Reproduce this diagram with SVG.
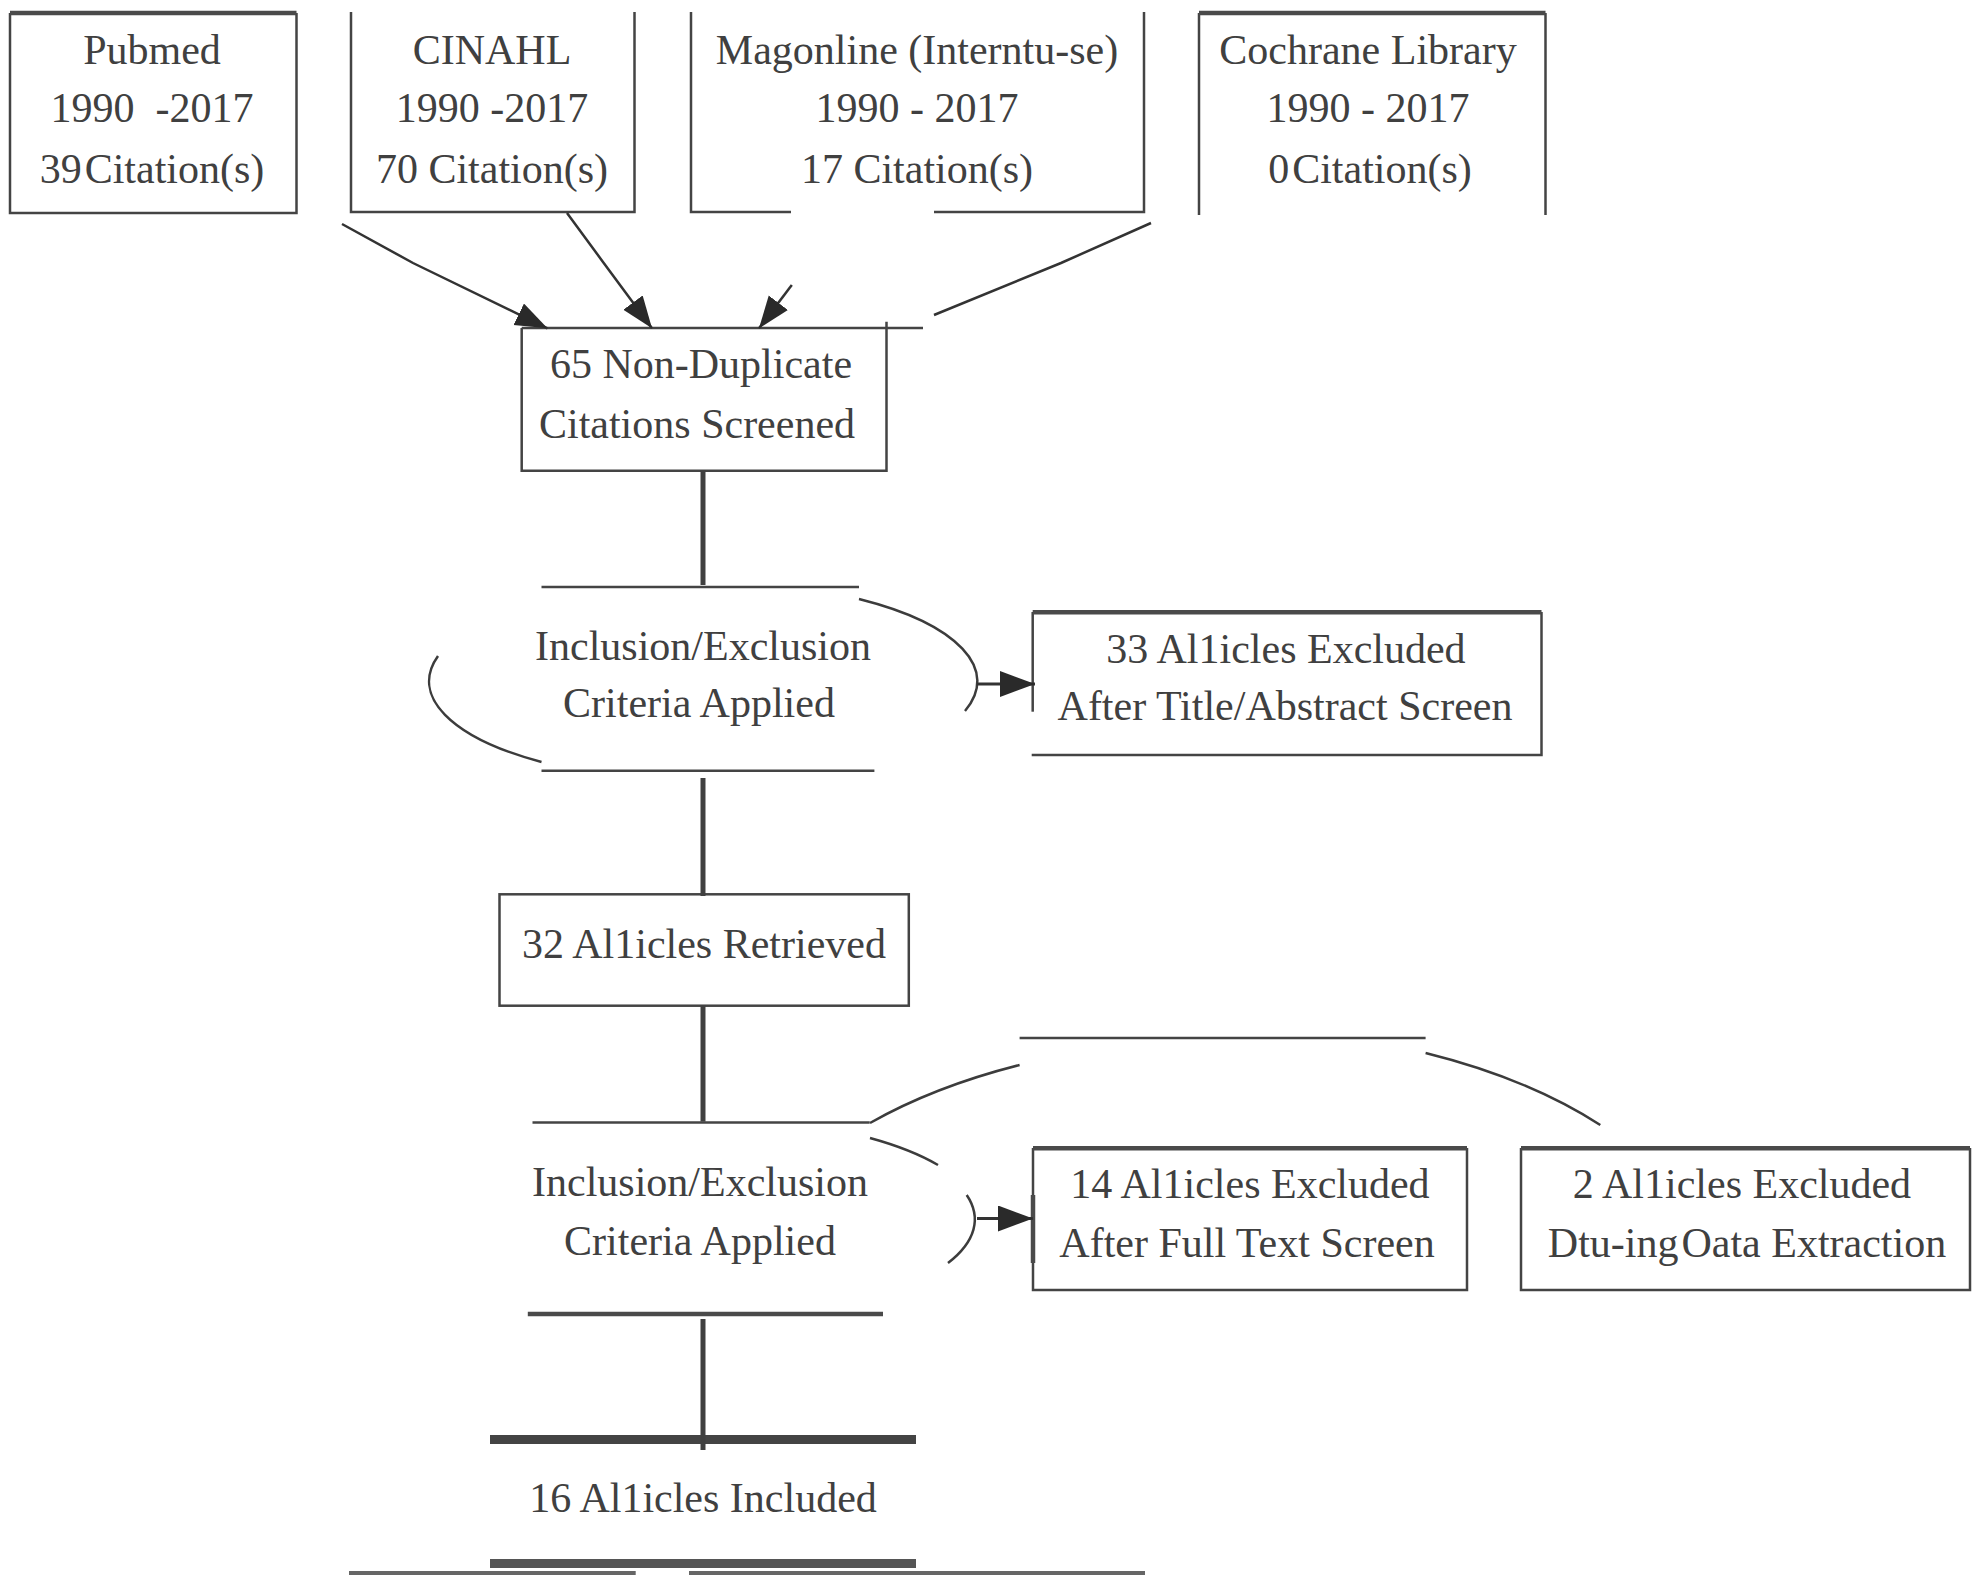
<svg xmlns="http://www.w3.org/2000/svg" width="1977" height="1580" viewBox="0 0 1977 1580">
<style>
  .bg{fill:#ffffff}
  .ln{stroke:#444444;stroke-width:2.5;fill:none}
  .tk{stroke:#4a4a4a;stroke-width:4.5;fill:none}
  .vt{stroke:#404040;stroke-width:5;fill:none}
  .bar{stroke:#444444;stroke-width:9;fill:none}
  .arc{stroke:#3c3c3c;stroke-width:2.5;fill:none}
  .cn{stroke:#333333;stroke-width:2.5;fill:none}
  text{font-family:"Liberation Serif","Times New Roman",serif;font-size:42px;fill:#404040;text-anchor:middle}
  .pre{white-space:pre}
</style>
<defs>
  <marker id="ah" markerUnits="userSpaceOnUse" markerWidth="34" markerHeight="26" refX="32" refY="12" orient="auto">
    <path d="M0,0 L32,12 L0,24 Z" fill="#2a2a2a"/>
  </marker>
  <marker id="ah2" markerUnits="userSpaceOnUse" markerWidth="37" markerHeight="28" refX="35" refY="13" orient="auto">
    <path d="M0,0 L35,13 L0,26 Z" fill="#2a2a2a"/>
  </marker>
</defs>
<rect class="bg" x="0" y="0" width="1977" height="1580"/>

<g id="pubmed">
  <path class="ln" d="M10,13 V213 H296.5 V13"/>
  <path class="tk" d="M10,13 H296.5"/>
  <text x="152" y="64">Pubmed</text>
  <text x="152" y="122" class="pre">1990  -2017</text>
  <text x="152" y="183">39<tspan dx="3">Citation(s)</tspan></text>
</g>

<g id="cinahl">
  <path class="ln" d="M351,12 V212 H634.5 V12"/>
  <text x="492" y="64">CINAHL</text>
  <text x="492" y="122">1990 -2017</text>
  <text x="492" y="183">70 Citation(s)</text>
</g>

<g id="magonline">
  <path class="ln" d="M791,212 H691 V12"/>
  <path class="ln" d="M934,212 H1144 V12"/>
  <text x="917" y="64">Magonline (Interntu-se)</text>
  <text x="917" y="122">1990 - 2017</text>
  <text x="917" y="183">17 Citation(s)</text>
</g>

<g id="cochrane">
  <path class="ln" d="M1199,13 V215 M1545.5,13 V215"/>
  <path class="tk" d="M1199,13 H1545.5"/>
  <text x="1368" y="64">Cochrane Library</text>
  <text x="1368" y="122">1990 - 2017</text>
  <text x="1370" y="183">0<tspan dx="3">Citation(s)</tspan></text>
</g>

<g id="nondup">
  <path class="ln" d="M521.7,328 V470.7 H886.5 V321.7"/>
  <path class="ln" d="M521.7,328 H923"/>
  <text x="701" y="378">65 Non-Duplicate</text>
  <text x="697" y="438">Citations Screened</text>
</g>

<g id="incl1">
  <path class="ln" d="M541.5,587 H859"/>
  <path class="ln" d="M541.5,770.7 H874.4"/>
  <path class="arc" d="M438,656 A274,100 0 0,0 541.5,762"/>
  <path class="arc" d="M859,599 A274,100 0 0,1 965,711"/>
  <text x="703" y="660">Inclusion/Exclusion</text>
  <text x="699" y="717">Criteria Applied</text>
</g>

<g id="excl33">
  <path class="ln" d="M1032.7,612 V711.7"/>
  <path class="ln" d="M1541.5,612 V755 H1031.7"/>
  <path class="tk" d="M1032.7,612.3 H1541.5"/>
  <text x="1286" y="663">33 Al1icles Excluded</text>
  <text x="1285" y="720">After Title/Abstract Screen</text>
</g>

<g id="retrieved32">
  <rect class="ln" x="499.5" y="894.3" width="409.3" height="111.4"/>
  <text x="704" y="958">32 Al1icles Retrieved</text>
</g>

<g id="incl2">
  <path class="ln" d="M532.5,1122.5 H869.7"/>
  <path class="tk" d="M527.8,1314 H883"/>
  <path class="arc" d="M870,1138 A274,101 0 0,1 938,1165"/>
  <path class="arc" d="M966.7,1195 A274,101 0 0,1 948,1263"/>
  <path class="arc" d="M870,1123 A500,270 0 0,1 1019.6,1065"/>
  <path class="ln" d="M1019.6,1038 H1425.6"/>
  <path class="arc" d="M1425.6,1053 A500,270 0 0,1 1600.3,1125"/>
  <text x="700" y="1196">Inclusion/Exclusion</text>
  <text x="700" y="1255">Criteria Applied</text>
</g>

<g id="excl14">
  <path class="ln" d="M1033,1148 V1290 H1467 V1148"/>
  <path class="tk" d="M1033,1195 V1263"/>
  <path class="tk" d="M1033,1148.3 H1467"/>
  <text x="1250" y="1198">14 Al1icles Excluded</text>
  <text x="1247" y="1257">After Full Text Screen</text>
</g>

<g id="excl2">
  <path class="ln" d="M1521,1148 V1290 H1970 V1148"/>
  <path class="tk" d="M1521,1148.3 H1970"/>
  <text x="1742" y="1198">2 Al1icles Excluded</text>
  <text x="1747" y="1257">Dtu-ing<tspan dx="3">Oata Extraction</tspan></text>
</g>

<g id="included16">
  <path class="bar" d="M490,1439.5 H916"/>
  <path class="bar" style="stroke:#555555" d="M490,1563.5 H916"/>
  <text x="703" y="1512">16 Al1icles Included</text>
</g>

<g id="page-edge">
  <path style="stroke:#666666;stroke-width:4;fill:none" d="M349,1573 H635.7 M689,1573 H1145"/>
</g>

<g id="connectors">
  <polyline class="cn" points="342,224 413,263 547.5,328.3" marker-end="url(#ah)"/>
  <polyline class="cn" points="567,213 602.8,261.7 652,328.3" marker-end="url(#ah)"/>
  <polyline class="cn" points="791.8,285 759,328.3" marker-end="url(#ah)"/>
  <polyline class="cn" points="1151,223 1061,263 934,315"/>
  <path class="vt" d="M703,470.7 V585"/>
  <path class="vt" d="M703,778 V896"/>
  <path class="vt" d="M703,1005.7 V1121.6"/>
  <path class="vt" d="M703,1319 V1450"/>
  <path class="cn" style="stroke-width:3" d="M977,684 H1035" marker-end="url(#ah2)"/>
  <path class="cn" style="stroke-width:3" d="M977,1218.5 H1033" marker-end="url(#ah2)"/>
</g>
</svg>
